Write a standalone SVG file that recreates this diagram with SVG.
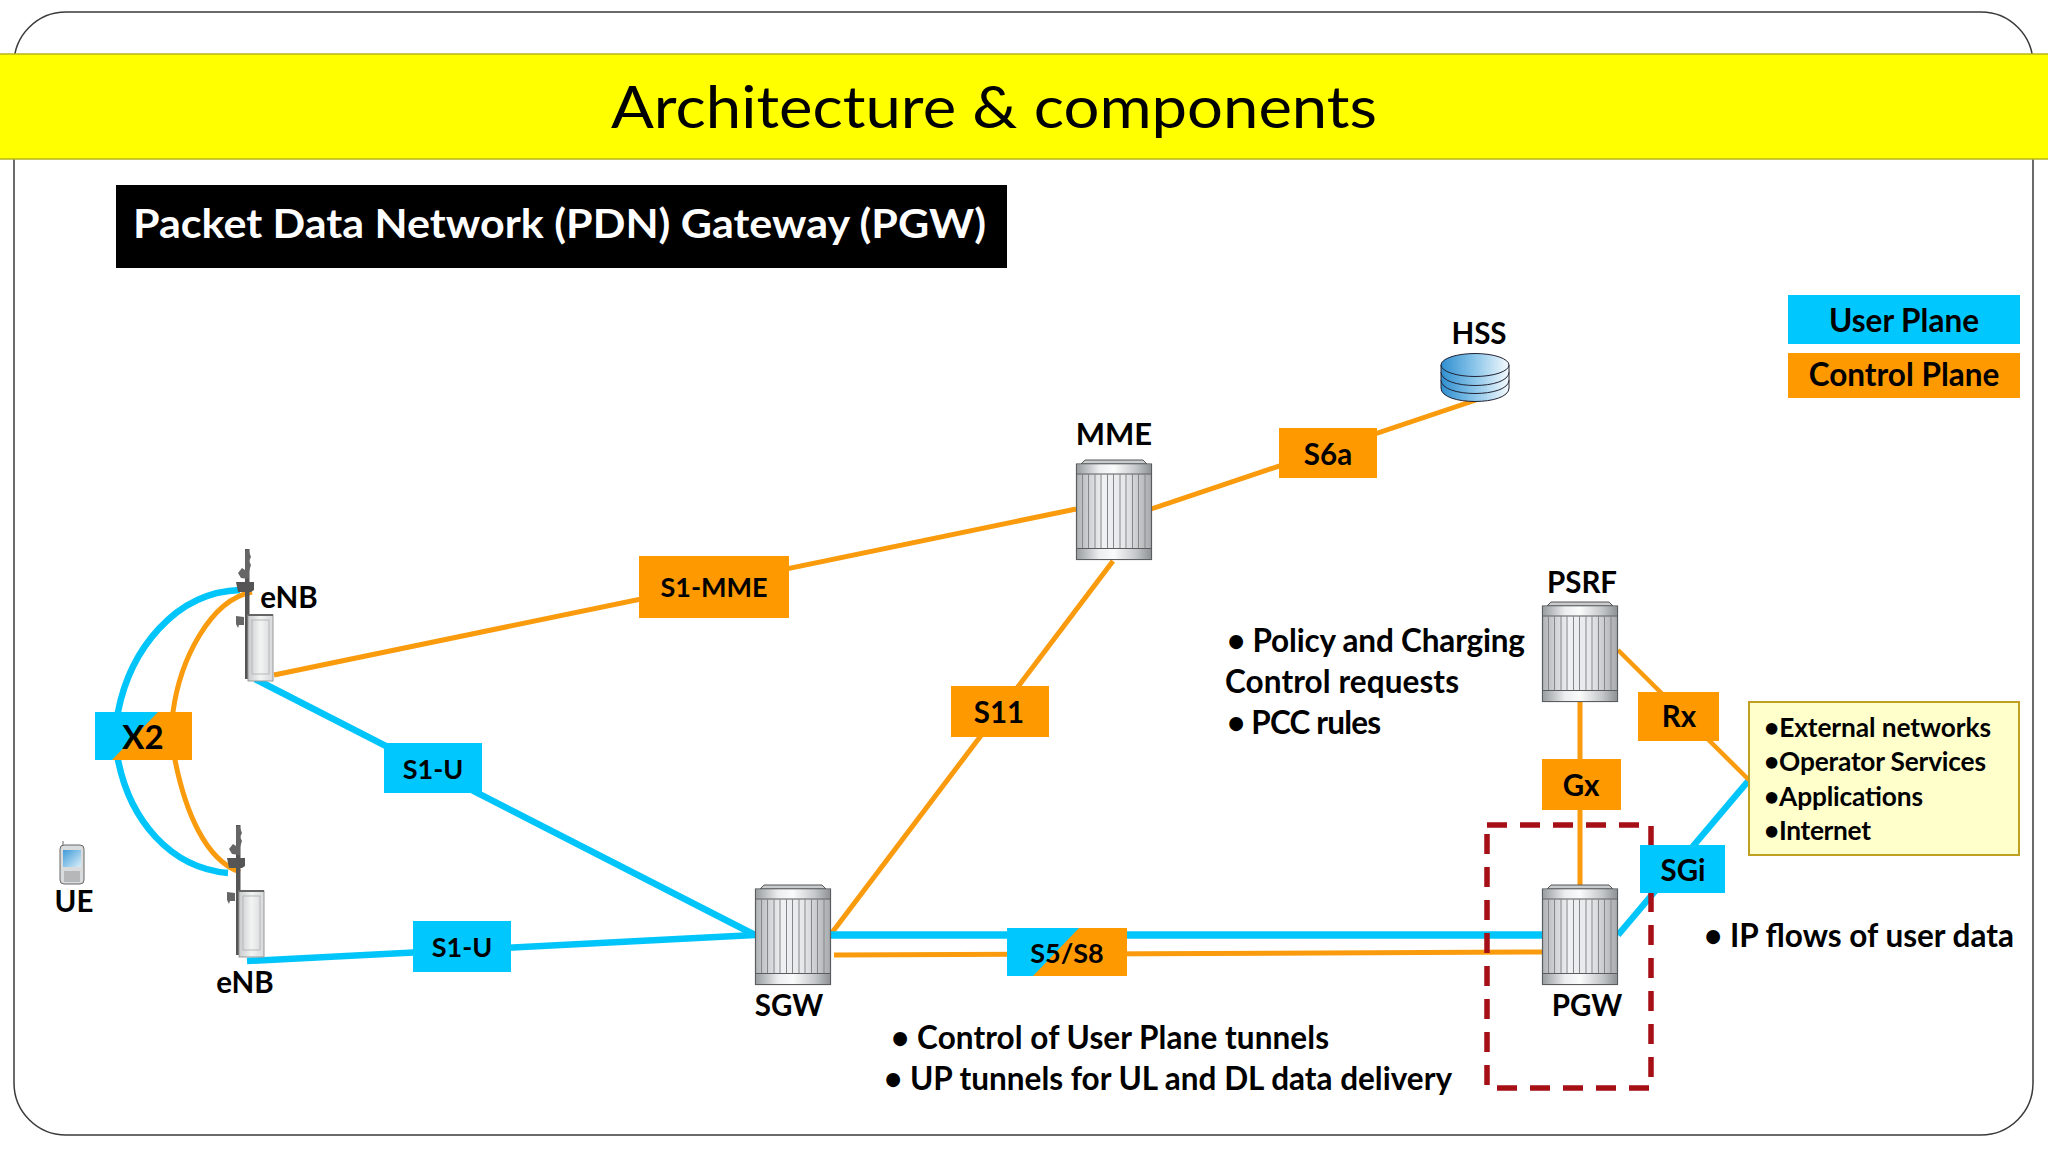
<svg xmlns="http://www.w3.org/2000/svg" xmlns:xlink="http://www.w3.org/1999/xlink" width="2048" height="1152" viewBox="0 0 2048 1152">
<style>
text{font-family:"Lato","Carlito","Liberation Sans",sans-serif;font-weight:700;fill:#000}
.n{font-size:29.500px;text-anchor:middle}
.i{font-size:27px;text-anchor:middle}
.l{font-size:31.500px;text-anchor:middle}
.b{font-size:31.500px}
.e{font-size:26.300px}
.o{stroke:#f99b0c;fill:none;stroke-width:5}
.u{stroke:#00c5fb;fill:none;stroke-width:6.500}
.bo{fill:#ff9900}.bu{fill:#00c8ff}
</style>
<defs>
<linearGradient id="met" x1="0" x2="1" y1="0" y2="0"><stop offset="0" stop-color="#9a9ea0"/><stop offset=".3" stop-color="#eceeef"/><stop offset=".5" stop-color="#fafbfb"/><stop offset=".8" stop-color="#c4c7c9"/><stop offset="1" stop-color="#909395"/></linearGradient>
<linearGradient id="rib" x1="0" x2="1" y1="0" y2="0"><stop offset="0" stop-color="#b0b3b5"/><stop offset=".35" stop-color="#f0f1f2"/><stop offset=".65" stop-color="#e6e7e8"/><stop offset="1" stop-color="#a8abad"/></linearGradient>
<linearGradient id="disk" x1="0" x2="1" y1="0" y2="0"><stop offset="0" stop-color="#2f8fd0"/><stop offset=".5" stop-color="#8cc6ea"/><stop offset="1" stop-color="#f4fafd"/></linearGradient>
<linearGradient id="cab" x1="0" x2="1" y1="0" y2="0"><stop offset="0" stop-color="#c9cbcc"/><stop offset=".5" stop-color="#f2f3f3"/><stop offset="1" stop-color="#d6d8d9"/></linearGradient>
<linearGradient id="scr" x1="0" x2="1" y1="0" y2="1"><stop offset="0" stop-color="#3f9bd8"/><stop offset="1" stop-color="#d9eef9"/></linearGradient>
<symbol id="server" viewBox="0 0 76 100" width="76" height="100" overflow="visible">
<path d="M5 4 L9 0 H67 L71 4Z" fill="#c9cbcc" stroke="#555" stroke-width="1"/>
<rect x="0.500" y="4" width="75" height="95.500" fill="url(#rib)" stroke="#5a5d5f" stroke-width="1.200"/>
<rect x="1" y="4.500" width="74" height="9" fill="url(#met)"/>
<rect x="1" y="89" width="74" height="10" fill="url(#met)"/>
<path d="M0.500 14 H75.500 M0.500 88.500 H75.500" stroke="#5a5d5f" stroke-width="1"/>
<path d="M6.500 14 V88 M12.500 14 V88 M19 14 V88 M25 14 V88 M31.500 14 V88 M37.500 14 V88 M44 14 V88 M50 14 V88 M56.500 14 V88 M62.500 14 V88 M69 14 V88" stroke="#85888b" stroke-width="1"/>
</symbol>
<symbol id="bts" viewBox="0 0 50 135" width="50" height="135" overflow="visible">
<rect x="15" y="0" width="4.500" height="130" fill="#555"/>
<path d="M15 2 l3 -2 l3 8 l-2 4 l2 4 l-2 6 l0 8 l-8 -1 l-3 -5 l4 -5 l3 2z" fill="#666"/>
<path d="M6 33 h18 l0 8 l-3 2 h-13z" fill="#555"/>
<path d="M14 68 l-8 -1 l0 8 l2 4 l1 -3 l5 0z" fill="#666"/>
<rect x="18" y="66" width="25" height="66" fill="url(#cab)" stroke="#999" stroke-width="1"/>
<rect x="18" y="65" width="25" height="2" fill="#666"/>
<rect x="22" y="71" width="17" height="54" fill="none" stroke="#b5b7b8" stroke-width="1"/>
</symbol>
</defs>
<rect width="2048" height="1152" fill="#fff"/>
<rect id="frame" x="14" y="12" width="2019" height="1123" rx="52" ry="52" fill="#fff" stroke="#3a3a3a" stroke-width="1.500"/>
<g id="banner"><rect x="-2" y="54" width="2052" height="105" fill="#ffff00" stroke="#b5b51e" stroke-width="1.500"/>
<text x="611" y="128" font-size="58" textLength="766" lengthAdjust="spacingAndGlyphs" style="font-weight:400">Architecture &amp; components</text></g>
<g id="heading"><rect x="116" y="185" width="891" height="83" fill="#000"/>
<text x="133" y="238" font-size="41" textLength="853" lengthAdjust="spacingAndGlyphs" style="fill:#fff">Packet Data Network (PDN) Gateway (PGW)</text></g>
<g id="legend">
<rect class="bu" x="1788" y="295" width="232" height="49"/><text class="l" x="1904" y="332">User Plane</text>
<rect class="bo" x="1788" y="353" width="232" height="45"/><text class="l" x="1904" y="386">Control Plane</text>
</g>
<g id="connectors">
<path class="u" d="M240 590 C175 592 130 650 118 712 L118 760 C130 820 170 868 228 873"/>
<path class="o" d="M252 592 C210 600 180 660 173 712 L175 760 C185 810 205 860 240 872"/>
<path class="o" d="M274 675 L1076 509"/>
<path class="o" d="M1151 509 L1476 400"/>
<path class="o" d="M1113 561 L831 934"/>
<path class="u" d="M255 679 L755 935"/>
<path class="u" d="M247 961 L755 935"/>
<path class="u" style="stroke-width:7.500" d="M831 935 H1542"/>
<path class="o" d="M834 955 L1542 952"/>
<path class="u" d="M1618 935 L1749 780"/>
<path class="o" style="stroke-width:4.500" d="M1618 650 L1749 780"/>
<path class="o" d="M1580 701 V885"/>
</g>
<rect id="pgw-highlight" x="1487" y="825" width="164" height="263" fill="none" stroke="#a50f15" stroke-width="5.500" stroke-dasharray="20 13"/>
<g id="X2"><rect class="bo" x="95" y="712" width="97" height="48"/><path class="bu" d="M95 712 H158 L112 760 H95Z"/><text class="n" x="143" y="749" style="font-size:33px">X2</text></g>
<g id="S1-MME"><rect class="bo" x="639" y="556" width="150" height="62"/><text class="i" x="714" y="597">S1-MME</text></g>
<g id="S6a"><rect class="bo" x="1279" y="428" width="98" height="50"/><text class="n" x="1328" y="465">S6a</text></g>
<g id="S11"><rect class="bo" x="951" y="686" width="98" height="51"/><text class="n" x="999" y="723">S11</text></g>
<g id="S1-U-1"><rect class="bu" x="384" y="743" width="98" height="50"/><text class="i" x="433" y="779">S1-U</text></g>
<g id="S1-U-2"><rect class="bu" x="413" y="921" width="98" height="51"/><text class="i" x="462" y="957">S1-U</text></g>
<g id="S5-S8"><rect class="bo" x="1007" y="928" width="120" height="48"/><path class="bu" d="M1007 928 H1079 L1033 976 H1007Z"/><text class="i" x="1067" y="963">S5/S8</text></g>
<g id="Rx"><rect class="bo" x="1638" y="692" width="81" height="49"/><text class="n" x="1679" y="727">Rx</text></g>
<g id="Gx"><rect class="bo" x="1542" y="759" width="79" height="51"/><text class="n" x="1581" y="796">Gx</text></g>
<g id="SGi"><rect class="bu" x="1640" y="845" width="85" height="48"/><text class="n" x="1683" y="881">SGi</text></g>
<g id="MME"><use xlink:href="#server" href="#server" x="1076" y="460"/><text class="n" x="1114" y="445" style="font-size:31px">MME</text></g>
<g id="SGW"><use xlink:href="#server" href="#server" x="755" y="885"/><text class="n" x="789" y="1016">SGW</text></g>
<g id="PSRF"><use xlink:href="#server" href="#server" x="1542" y="602"/><text class="n" x="1582" y="593">PSRF</text></g>
<g id="PGW"><use xlink:href="#server" href="#server" x="1542" y="885"/><text class="n" x="1587" y="1016">PGW</text></g>
<g id="HSS">
<path d="M1441 380 V388 C1441 406 1509 406 1509 388 V380Z" fill="url(#disk)" stroke="#223" stroke-width="1"/>
<path d="M1441 372 V380 C1441 398 1509 398 1509 380 V372Z" fill="url(#disk)" stroke="#223" stroke-width="1"/>
<path d="M1441 365 V372 C1441 390 1509 390 1509 372 V365Z" fill="url(#disk)" stroke="#223" stroke-width="1"/>
<ellipse cx="1475" cy="365" rx="34" ry="11.500" fill="url(#disk)" stroke="#223" stroke-width="1"/>
<text class="n" x="1479" y="344">HSS</text></g>
<g id="eNB-1"><use xlink:href="#bts" href="#bts" x="230" y="549"/><text class="n" x="289" y="608">eNB</text></g>
<g id="eNB-2"><use xlink:href="#bts" href="#bts" x="221" y="825"/><text class="n" x="245" y="993">eNB</text></g>
<g id="UE">
<rect x="60" y="845" width="24" height="39" rx="4" fill="#d9dbdc" stroke="#666" stroke-width="1"/>
<rect x="63" y="850" width="18" height="17" fill="url(#scr)"/>
<rect x="64" y="871" width="16" height="11" fill="#b5b7b8"/>
<path d="M63 845 V841" stroke="#666" stroke-width="1"/>
<text class="n" x="74" y="912">UE</text></g>
<g id="external-networks"><rect x="1749" y="702" width="270" height="153" fill="#ffffcc" stroke="#c0a020" stroke-width="2"/>
<text class="e" x="1764" y="737" textLength="227">•External networks</text>
<text class="e" x="1764" y="771" textLength="222">•Operator Services</text>
<text class="e" x="1764" y="806" textLength="159">•Applications</text>
<text class="e" x="1764" y="840" textLength="107">•Internet</text></g>
<g id="notes">
<text class="b" x="1227" y="652" textLength="298">• Policy and Charging</text>
<text class="b" x="1225" y="693" textLength="234">Control requests</text>
<text class="b" x="1227" y="734" textLength="154">• PCC rules</text>
<text class="b" x="891" y="1049" textLength="438">• Control of User Plane tunnels</text>
<text class="b" x="884" y="1090" textLength="568">• UP tunnels for UL and DL data delivery</text>
<text class="b" x="1704" y="947" textLength="310">• IP flows of user data</text>
</g>
</svg>
